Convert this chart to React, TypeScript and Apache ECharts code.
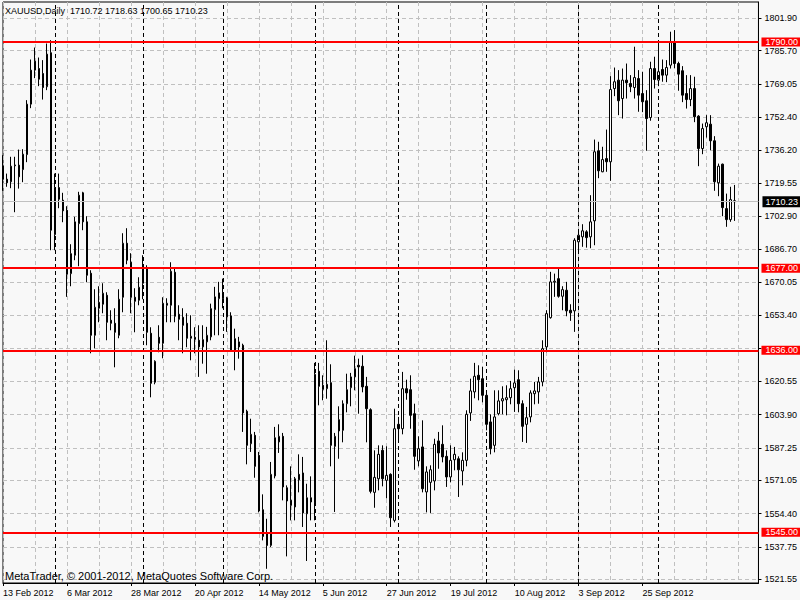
import React, { useEffect, useRef } from 'react';
import * as echarts from 'echarts';

// ---- data (XAUUSD daily) ----
const opens = [
  1728.2, 1721.5, 1720.2, 1728.2, 1728.5, 1726.3, 1733.8, 1759.0, 1776.0, 1776.8,
  1774.3, 1767.7, 1784.7, 1693.8, 1717.3, 1711.0, 1706.0, 1674.3, 1683.5, 1699.3,
  1714.7, 1700.2, 1674.5, 1643.5, 1657.0, 1659.0, 1663.5, 1651.0, 1649.5, 1643.5,
  1662.5, 1689.5, 1680.0, 1662.5, 1661.0, 1669.5, 1677.0, 1644.5, 1620.0, 1642.5,
  1639.5, 1658.5, 1658.5, 1675.0, 1654.0, 1652.5, 1649.5, 1642.0, 1642.5, 1641.0,
  1637.7, 1640.2, 1642.7, 1656.3, 1661.8, 1664.7, 1662.2, 1653.2, 1635.7, 1640.2,
  1638.5, 1605.5, 1589.3, 1593.5, 1583.5, 1556.3, 1544.3, 1538.5, 1573.2, 1590.2,
  1593.0, 1567.3, 1561.0, 1557.7, 1574.0, 1574.7, 1554.3, 1562.3, 1559.7, 1625.5,
  1618.5, 1616.8, 1619.8, 1588.0, 1601.3, 1596.0, 1609.3, 1617.3, 1622.7, 1628.5,
  1628.0, 1618.0, 1606.3, 1565.0, 1571.8, 1586.0, 1571.0, 1574.0, 1551.0, 1599.0,
  1596.8, 1616.8, 1616.3, 1604.3, 1580.7, 1587.7, 1565.2, 1570.0, 1570.7, 1590.7,
  1589.0, 1583.0, 1572.7, 1581.3, 1581.8, 1575.7, 1581.0, 1604.7, 1615.2, 1623.5,
  1621.8, 1613.5, 1600.2, 1588.5, 1604.3, 1610.7, 1611.3, 1612.3, 1617.3, 1621.3,
  1609.3, 1599.0, 1602.7, 1614.3, 1615.2, 1620.2, 1637.7, 1652.3, 1670.0, 1671.8,
  1663.0, 1666.0, 1656.0, 1655.7, 1690.2, 1692.7, 1695.2, 1692.7, 1700.7, 1735.7,
  1725.2, 1731.8, 1730.2, 1766.8, 1771.0, 1761.8, 1771.0, 1769.3, 1767.3, 1771.8,
  1764.3, 1760.7, 1752.3, 1776.8, 1771.0, 1776.3, 1773.5, 1778.5, 1790.2, 1779.3,
  1775.7, 1764.3, 1761.3, 1766.8, 1753.0, 1736.8, 1747.7, 1749.0, 1740.7, 1719.7,
  1729.0, 1706.8, 1701.3, 1710.72,
];
const highs = [
  1733.5, 1724.3, 1732.7, 1732.7, 1736.3, 1736.5, 1761.0, 1781.3, 1787.3, 1782.3,
  1781.0, 1789.3, 1791.0, 1724.3, 1724.3, 1714.7, 1708.0, 1689.0, 1702.7, 1715.2,
  1715.2, 1703.0, 1676.0, 1666.5, 1668.0, 1669.5, 1665.0, 1656.0, 1657.0, 1666.5,
  1694.5, 1697.0, 1684.5, 1667.0, 1672.5, 1683.5, 1678.5, 1647.5, 1631.0, 1648.5,
  1662.5, 1662.0, 1680.0, 1677.5, 1658.5, 1657.0, 1654.5, 1653.5, 1647.5, 1648.5,
  1648.5, 1647.7, 1659.3, 1667.7, 1670.2, 1671.8, 1662.7, 1655.0, 1646.8, 1642.7,
  1639.3, 1606.3, 1601.8, 1595.2, 1585.2, 1564.0, 1551.8, 1580.2, 1597.7, 1599.0,
  1594.7, 1568.5, 1578.0, 1572.7, 1584.0, 1582.7, 1569.3, 1573.0, 1629.7, 1629.7,
  1623.5, 1641.0, 1629.0, 1594.7, 1608.0, 1611.0, 1624.3, 1624.7, 1633.3, 1631.8,
  1633.5, 1622.7, 1607.0, 1586.0, 1588.5, 1588.5, 1588.0, 1574.5, 1606.8, 1602.7,
  1625.2, 1621.3, 1623.5, 1609.3, 1593.0, 1601.0, 1578.0, 1578.5, 1591.8, 1595.2,
  1598.5, 1586.0, 1588.5, 1587.7, 1583.0, 1585.0, 1606.0, 1621.8, 1629.7, 1628.5,
  1627.7, 1615.0, 1604.0, 1616.0, 1616.0, 1618.0, 1618.5, 1620.7, 1626.3, 1626.0,
  1611.0, 1607.7, 1616.0, 1620.2, 1622.7, 1641.0, 1656.0, 1675.2, 1674.3, 1676.8,
  1668.0, 1670.2, 1659.0, 1692.0, 1696.0, 1699.0, 1696.0, 1713.5, 1741.3, 1740.2,
  1737.7, 1746.3, 1773.0, 1777.3, 1776.0, 1776.8, 1779.3, 1773.5, 1787.7, 1776.0,
  1775.2, 1766.0, 1780.2, 1782.7, 1789.3, 1781.3, 1781.0, 1795.2, 1796.0, 1780.2,
  1778.0, 1773.5, 1773.5, 1772.7, 1753.5, 1749.3, 1753.5, 1753.5, 1743.0, 1729.3,
  1729.3, 1714.3, 1717.7, 1718.63,
];
const lows = [
  1715.7, 1717.7, 1717.0, 1705.0, 1716.8, 1720.0, 1730.0, 1757.0, 1772.0, 1768.0,
  1761.3, 1766.0, 1686.0, 1686.0, 1707.0, 1700.0, 1662.7, 1668.0, 1681.0, 1678.0,
  1696.0, 1670.0, 1634.5, 1637.0, 1650.0, 1654.5, 1641.0, 1646.0, 1627.5, 1642.0,
  1655.0, 1679.0, 1654.5, 1645.0, 1658.5, 1661.5, 1638.5, 1612.5, 1619.0, 1635.0,
  1632.0, 1650.0, 1650.0, 1650.0, 1641.0, 1634.5, 1637.5, 1631.0, 1634.5, 1622.7,
  1629.3, 1624.3, 1641.0, 1643.5, 1643.5, 1657.0, 1645.2, 1635.2, 1626.0, 1631.8,
  1595.2, 1579.0, 1585.2, 1572.3, 1555.0, 1541.0, 1526.8, 1537.7, 1572.0, 1584.7,
  1561.0, 1533.0, 1551.0, 1551.0, 1565.0, 1547.7, 1530.7, 1551.0, 1551.0, 1608.5,
  1611.0, 1611.8, 1578.0, 1555.2, 1581.8, 1590.0, 1605.0, 1608.0, 1616.0, 1604.3,
  1615.0, 1590.0, 1564.5, 1557.3, 1566.0, 1568.0, 1562.0, 1547.7, 1550.0, 1591.0,
  1594.0, 1611.3, 1596.8, 1576.3, 1578.0, 1565.0, 1555.0, 1554.7, 1566.0, 1576.8,
  1580.0, 1567.7, 1570.0, 1576.0, 1562.7, 1568.5, 1578.0, 1600.7, 1612.0, 1611.0,
  1610.0, 1596.0, 1584.0, 1585.0, 1603.5, 1604.0, 1603.5, 1609.0, 1605.2, 1605.0,
  1590.2, 1589.7, 1600.0, 1609.0, 1609.3, 1618.0, 1635.0, 1651.8, 1662.7, 1662.3,
  1656.0, 1653.0, 1650.7, 1645.2, 1685.2, 1687.7, 1687.3, 1687.0, 1688.5, 1722.0,
  1725.0, 1725.2, 1720.7, 1763.0, 1753.5, 1751.8, 1761.8, 1765.0, 1761.8, 1755.2,
  1755.0, 1735.7, 1750.7, 1766.8, 1768.0, 1770.2, 1770.0, 1776.8, 1777.0, 1765.7,
  1760.0, 1756.8, 1758.0, 1750.0, 1728.0, 1734.0, 1742.3, 1736.0, 1715.7, 1713.0,
  1703.0, 1697.7, 1700.2, 1700.65,
];
const closes = [
  1721.5, 1719.7, 1728.0, 1728.6, 1722.7, 1734.0, 1759.0, 1776.0, 1780.5, 1771.5,
  1767.3, 1784.0, 1696.0, 1717.3, 1711.5, 1705.7, 1674.0, 1684.3, 1700.2, 1713.5,
  1700.2, 1673.5, 1643.5, 1657.5, 1660.0, 1664.5, 1650.0, 1649.5, 1645.0, 1661.5,
  1689.5, 1681.0, 1662.5, 1660.5, 1667.5, 1677.5, 1645.0, 1619.5, 1630.5, 1639.5,
  1659.5, 1659.5, 1675.5, 1653.0, 1651.5, 1648.5, 1642.0, 1643.0, 1641.5, 1637.7,
  1641.3, 1643.5, 1656.8, 1662.7, 1664.7, 1661.8, 1652.7, 1636.0, 1641.8, 1637.7,
  1604.7, 1588.5, 1594.0, 1578.0, 1555.7, 1543.0, 1538.5, 1574.0, 1592.3, 1593.0,
  1567.7, 1560.7, 1558.5, 1571.8, 1571.3, 1554.7, 1562.3, 1560.2, 1624.0, 1618.0,
  1616.5, 1619.0, 1588.5, 1593.0, 1595.7, 1609.3, 1616.3, 1622.7, 1626.8, 1627.7,
  1617.7, 1606.8, 1565.5, 1572.5, 1584.0, 1571.8, 1573.5, 1552.3, 1596.8, 1596.8,
  1616.8, 1614.7, 1603.5, 1583.0, 1586.8, 1566.8, 1575.2, 1576.3, 1589.0, 1584.7,
  1582.7, 1572.7, 1581.0, 1584.0, 1576.3, 1581.0, 1604.0, 1615.7, 1623.0, 1621.3,
  1613.5, 1599.0, 1586.8, 1602.7, 1610.7, 1611.8, 1612.3, 1616.8, 1619.7, 1609.3,
  1598.0, 1602.3, 1614.7, 1615.7, 1620.2, 1636.8, 1654.3, 1670.2, 1670.5, 1663.0,
  1666.3, 1655.7, 1654.7, 1691.0, 1693.5, 1695.7, 1692.3, 1700.2, 1735.2, 1725.7,
  1731.3, 1730.2, 1766.3, 1770.2, 1760.7, 1771.0, 1769.7, 1767.7, 1772.3, 1763.5,
  1760.2, 1751.8, 1776.8, 1771.3, 1775.2, 1773.5, 1777.3, 1790.2, 1779.3, 1774.0,
  1763.5, 1761.3, 1766.8, 1752.7, 1736.8, 1746.8, 1749.7, 1740.7, 1720.2, 1728.0,
  1707.3, 1701.3, 1711.3, 1710.23,
];

const levels = [1790, 1677, 1636, 1545];
const bidPrice = 1710.23;
const yTickValues = [
  1521.55, 1537.75, 1554.4, 1571.05, 1587.25, 1603.9, 1620.55, 1637.2, 1653.4,
  1670.05, 1686.7, 1702.9, 1719.55, 1736.2, 1752.4, 1769.05, 1785.7, 1801.9,
];
const hiddenYLabels = [1637.2];
const firstDay = [2012, 1, 13];
const holidays = ['2012-04-06'];
const totalSlots = 190;
const MONTHS = ['Jan', 'Feb', 'Mar', 'Apr', 'May', 'Jun', 'Jul', 'Aug', 'Sep', 'Oct', 'Nov', 'Dec'];
const symbolName = 'XAUUSD,Daily';
const copyright = 'MetaTrader, \u00A9 2001-2012, MetaQuotes Software Corp.';

function makeCategories(): { labels: string[]; months: number[] } {
  const labels: string[] = [];
  const months: number[] = [];
  const d = new Date(Date.UTC(firstDay[0], firstDay[1], firstDay[2]));
  while (labels.length < totalSlots) {
    const wd = d.getUTCDay();
    const iso = d.toISOString().slice(0, 10);
    if (wd !== 0 && wd !== 6 && holidays.indexOf(iso) < 0) {
      labels.push(`${d.getUTCDate()} ${MONTHS[d.getUTCMonth()]} ${d.getUTCFullYear()}`);
      months.push(d.getUTCMonth());
    }
    d.setUTCDate(d.getUTCDate() + 1);
  }
  return { labels, months };
}

const FONT = 'Liberation Sans';

export default function App() {
  const ref = useRef<HTMLDivElement>(null);
  useEffect(() => {
    if (!ref.current) return;
    const chart = echarts.init(ref.current, null, { renderer: 'svg' });
    const { labels, months } = makeCategories();
    const n = closes.length;
    const separators: number[] = [];
    for (let i = 1; i < n; i++) if (months[i] !== months[i - 1]) separators.push(i);
    const candles = opens.map((o, i) => [o, closes[i], lows[i], highs[i]]);
    const last = n - 1;
    const header = `${symbolName}  ${opens[last].toFixed(2)} ${highs[last].toFixed(2)} ${lows[last].toFixed(2)} ${closes[last].toFixed(2)}`;

    const levelLines = levels.map((v) => ({
      yAxis: v,
      lineStyle: { color: '#ff0000', width: 2, type: 'solid' },
      label: {
        show: true,
        position: 'end',
        distance: 3,
        formatter: v.toFixed(2),
        color: '#ffffff',
        backgroundColor: '#ff0000',
        fontFamily: FONT,
        fontSize: 9,
        lineHeight: 9,
        padding: [0, 2, 0, 4],
      },
    }));
    const bidLine = {
      yAxis: bidPrice,
      lineStyle: { color: '#c0c0c0', width: 1, type: 'solid' },
      label: {
        show: true,
        position: 'end',
        distance: 4,
        formatter: bidPrice.toFixed(2),
        color: '#ffffff',
        backgroundColor: '#000000',
        fontFamily: FONT,
        fontSize: 9,
        lineHeight: 10,
        padding: [1, 2, 0, 3],
      },
    };
    const sepLines = separators.map((i) => ({
      xAxis: labels[i],
      lineStyle: { color: '#000000', width: 1, type: [4, 3] },
      label: { show: false },
    }));

    chart.setOption({
      animation: false,
      backgroundColor: '#f8f8f8',
      grid: {
        left: 3,
        right: 41,
        top: 2,
        bottom: 17,
        show: true,
        borderColor: '#000000',
        borderWidth: 1,
        backgroundColor: 'transparent',
      },
      xAxis: {
        type: 'category',
        data: labels,
        boundaryGap: false,
        axisLine: { show: true, lineStyle: { color: '#000000', width: 1 } },
        axisTick: { show: true, interval: 15, length: 3, lineStyle: { color: '#000000' } },
        axisLabel: {
          interval: 15,
          align: 'left',
          margin: 5,
          color: '#000000',
          fontFamily: FONT,
          fontSize: 9,
          showMaxLabel: false,
        },
        splitLine: {
          show: true,
          interval: (idx: number) => idx % 8 === 0,
          lineStyle: { color: '#c0c0c0', width: 1, type: [4, 3] },
        },
      },
      yAxis: {
        type: 'value',
        position: 'right',
        min: 1519.7,
        max: 1810.05,
        axisLine: { show: true, lineStyle: { color: '#000000', width: 1 } },
        axisTick: { show: true, length: 3, customValues: yTickValues, lineStyle: { color: '#000000' } },
        axisLabel: {
          customValues: yTickValues.filter((v) => hiddenYLabels.indexOf(v) < 0),
          margin: 6,
          color: '#000000',
          fontFamily: FONT,
          fontSize: 9,
          formatter: (v: number) => v.toFixed(2),
        },
        splitLine: { show: true, lineStyle: { color: '#c0c0c0', width: 1, type: [4, 3] } },
      },
      series: [
        {
          type: 'candlestick',
          data: candles,
          barWidth: 2,
          itemStyle: {
            color: '#ffffff',
            color0: '#000000',
            borderColor: '#000000',
            borderColor0: '#000000',
            borderColorDoji: '#000000',
            borderWidth: 1,
          },
          markLine: {
            silent: true,
            symbol: ['none', 'none'],
            animation: false,
            data: [...sepLines, bidLine, ...levelLines],
          },
        },
      ],
      graphic: [
        {
          type: 'text',
          left: 5,
          top: 6,
          z: 100,
          style: { text: header, font: `9px "${FONT}"`, fill: '#000000' },
        },
        {
          type: 'text',
          left: 5,
          top: 570,
          z: 100,
          style: { text: copyright, font: `11px "${FONT}"`, fill: '#000000' },
        },
      ],
    });
    return () => chart.dispose();
  }, []);
  return (
    <div
      ref={ref}
      style={{ position: 'fixed', left: 0, top: 0, width: 800, height: 600, background: '#f8f8f8' }}
    />
  );
}
